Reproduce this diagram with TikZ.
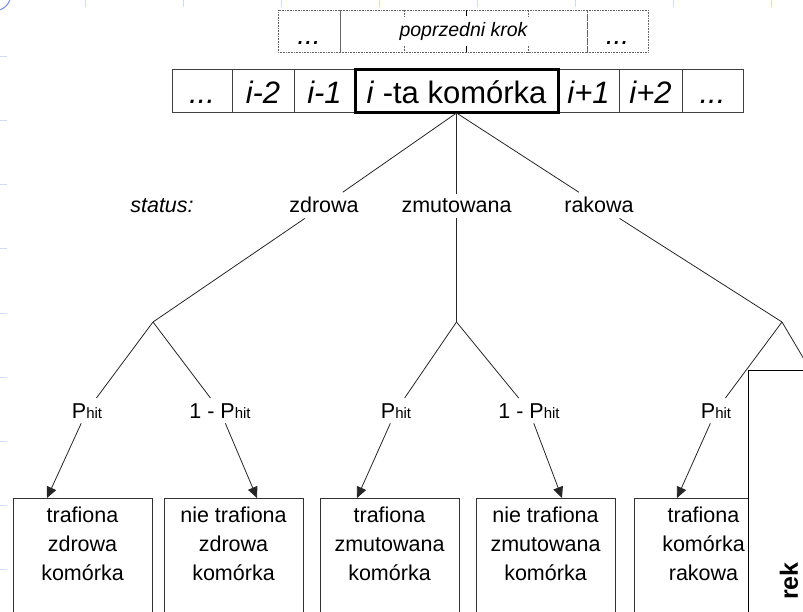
\documentclass[tikz,border=0pt]{standalone}
\usepackage{fontspec}
\setmainfont{Liberation Sans}
\usetikzlibrary{arrows.meta,positioning}

\definecolor{decoblue}{RGB}{212,218,245}
\definecolor{ringblue}{RGB}{120,140,225}

\newcommand{\fsz}[2]{\fontsize{#1}{#2}\selectfont}
\newcommand{\Phit}{P{\fsz{15}{15}hit}}

\begin{document}
\begin{tikzpicture}[x=1pt, y=-1pt, > = {Triangle[length=11pt,width=10pt]}, shorten > = 0pt]
  \tikzstyle{cell}=[draw=black!75, line width=1pt, minimum height=43pt, minimum width=61pt, inner sep=0pt, outer sep=0pt, text height=25pt, text depth=0pt, font=\fsz{31}{31}\itshape]
  \tikzstyle{prev}=[draw=black!60, densely dotted, line width=0.6pt, minimum height=42pt, inner sep=0pt, outer sep=0pt, text depth=0pt]
  \tikzstyle{lbl}=[anchor=base, inner sep=5pt, font=\fsz{21.5}{21.5}]
  \tikzstyle{leaf}=[draw=black!80, line width=1pt, minimum width=139pt, anchor=north, align=center, inner sep=0pt, text height=82pt, text depth=70pt, font=\fsz{21.5}{29}]
  \tikzstyle{tree}=[black!85, line width=0.8pt]
  \tikzstyle{deco}=[draw=decoblue, line width=1pt]

  \useasboundingbox (0,0) rectangle (803,612);
  \clip (0,0) rectangle (803,612);

  % Tlo
  \draw[ringblue, line width=1pt] (-6,-6) circle (17pt);
  \foreach \y in {57,121,...,569} \draw[deco] (0,\y) -- (7,\y);
  \foreach \x in {85,183,...,778} \draw[deco] (\x,0) -- (\x,7);

  % Poprzedni krok
  \node[prev, minimum width=62pt, text height=27pt, font=\fsz{28}{28}\itshape] (p1) at (309,31) {...};
  \node[prev, right=0pt of p1, minimum width=247pt, text height=12pt, font=\fsz{19.5}{19.5}\itshape] (p2) {poprzedni krok};
  \node[prev, right=0pt of p2, minimum width=61pt, text height=27pt, font=\fsz{28}{28}\itshape] (p3) {...};
  \draw[black!60, line width=1pt] (p1.north east) -- (p1.south east);
  \foreach \x in {404,528} {
    \draw[black!60, densely dotted] (\x,10) -- (\x,16);
    \draw[black!60, densely dotted] (\x,46) -- (\x,52);
  }
  \draw[black, line width=1pt] (466,10) -- (466,16);
  \draw[black, line width=1pt] (466,46) -- (466,52);

  % Komorki
  \node[cell, minimum width=60pt] (c1) at (202,91.5) {...};
  \node[cell, right=0pt of c1, minimum width=62pt] (c2) {i-2};
  \node[cell, right=0pt of c2] (c3) {i-1};
  \node[cell, right=203pt of c3] (c5) {i+1};
  \node[cell, right=0pt of c5, minimum width=63pt] (c6) {i+2};
  \node[cell, right=0pt of c6] (c7) {...};
  \node[cell, right=0pt of c3, minimum width=203pt, line width=3pt, draw=black, font=\fsz{31}{31}] (ci) {\textit{i} -ta komórka};

  % Status
  \node[lbl, font=\fsz{21.5}{21.5}\itshape] (st) at (162,213) {status:};
  \node[lbl] (zd) at (324,213) {zdrowa};
  \node[lbl] (zm) at (456.5,213) {zmutowana};
  \node[lbl] (rk) at (599,213) {rakowa};

  \coordinate (a1) at (153,322);
  \coordinate (a2) at (456.5,322);
  \coordinate (a3) at (782,322);

  \draw[tree] (ci.south) -- (zd) -- (a1);
  \draw[tree] (ci.south) -- (zm) -- (a2);
  \draw[tree] (ci.south) -- (rk) -- (a3);

  % Prawdopodobienstwa
  \node[lbl] (l1) at (87,418) {\Phit};
  \node[lbl] (r1) at (220,418) {1 - \Phit};
  \node[lbl] (l2) at (396,418) {\Phit};
  \node[lbl] (r2) at (529,418) {1 - \Phit};
  \node[lbl] (l3) at (716,418) {\Phit};
  \coordinate (r3) at (840,420);

  % Wyniki
  \node[leaf] (b1) at (82.5,498) {trafiona\\zdrowa\\komórka};
  \node[leaf] (b2) at (233.5,498) {nie trafiona\\zdrowa\\komórka};
  \node[leaf] (b3) at (389.5,498) {trafiona\\zmutowana\\komórka};
  \node[leaf] (b4) at (545.5,498) {nie trafiona\\zmutowana\\komórka};
  \node[leaf] (b5) at (703.5,498) {trafiona\\komórka\\rakowa};

  \coordinate (t1) at (47,498);
  \coordinate (t2) at (257,498);
  \coordinate (t3) at (357,498);
  \coordinate (t4) at (562,498);
  \coordinate (t5) at (677,498);

  \draw[tree] (a1) -- (l1);
  \draw[tree] (a1) -- (r1);
  \draw[tree] (a2) -- (l2);
  \draw[tree] (a2) -- (r2);
  \draw[tree] (a3) -- (l3);
  \draw[tree] (a3) -- (r3);
  \draw[tree, ->] (l1) -- (t1);
  \draw[tree, ->] (r1) -- (t2);
  \draw[tree, ->] (l2) -- (t3);
  \draw[tree, ->] (r2) -- (t4);
  \draw[tree, ->] (l3) -- (t5);

  % Nastepny krok
  \node[draw, fill=white, line width=1.2pt, minimum width=120pt, minimum height=300pt, anchor=north west] (nk) at (748,370) {};
  \node[rotate=90, font=\fsz{25}{25}\bfseries] (rek) at (789,581) {rek};
\end{tikzpicture}
\end{document}
